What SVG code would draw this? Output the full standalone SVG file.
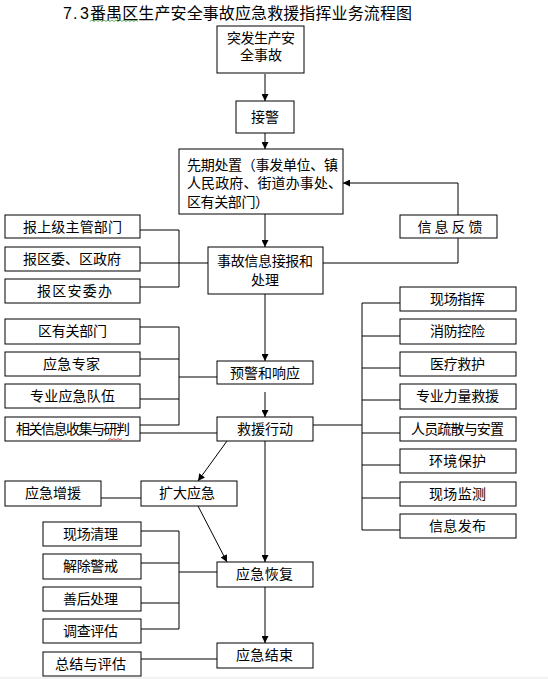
<svg xmlns="http://www.w3.org/2000/svg" width="548" height="679" viewBox="0 0 548 679">
<style>
  .box { fill: #fff; stroke: #000; stroke-width: 1; }
  .t { font-family: "Liberation Sans", "Noto Sans CJK SC", sans-serif; font-size: 14px; fill: #000; text-anchor: middle; }
  .tl { text-anchor: start; }
  .ttl { font-family: "Liberation Sans", "Noto Sans CJK SC", sans-serif; font-size: 16px; fill: #000; }
  .c { fill: none; stroke: #000; stroke-width: 1; }
  .a { fill: none; stroke: #000; stroke-width: 1; marker-end: url(#arr); }
</style>
<defs>
  <marker id="arr" viewBox="0 0 8 8" refX="8" refY="4" markerWidth="7" markerHeight="7" markerUnits="userSpaceOnUse" orient="auto">
    <path d="M0,0 L8,4 L0,8 Z" fill="#000"/>
  </marker>
</defs>
<rect x="0" y="0" width="548" height="679" fill="#fff"/>
<rect x="0" y="677" width="548" height="2" fill="#f2f2f2"/>

<g id="title">
  <text class="ttl" y="19"><tspan x="63">7</tspan><tspan x="73">.</tspan><tspan x="80">3</tspan><tspan x="90" textLength="322" lengthAdjust="spacing">番禺区生产安全事故应急救援指挥业务流程图</tspan></text>
  <polyline points="90,21.5 92,20 94,21.5 96,20 98,21.5 100,20 102,21.5 104,20 106,21.5 108,20 110,21.5 112,20 114,21.5 116,20 118,21.5 120,20 122,21.5 124,20 126,21.5 128,20 130,21.5 132,20 134,21.5 136,20 138,21.5" fill="none" stroke="#3a9a3a" stroke-width="0.8"/>
</g>

<g id="connectors">
  <line class="a" x1="265" y1="74" x2="265" y2="101"/>
  <line class="a" x1="265" y1="133" x2="265" y2="149"/>
  <line class="a" x1="265" y1="214" x2="265" y2="247"/>
  <line class="a" x1="265" y1="294" x2="265" y2="361"/>
  <line class="a" x1="265" y1="392" x2="265" y2="417"/>
  <line class="a" x1="265" y1="441" x2="265" y2="562"/>
  <line class="a" x1="265" y1="587" x2="265" y2="643"/>
  <line class="a" x1="227" y1="441" x2="198" y2="481"/>
  <line class="a" x1="198" y1="506" x2="227" y2="562"/>
  <polyline class="a" points="458,215 458,183 343,183"/>
  <polyline class="c" points="323,263 458,263 458,238"/>
  <polyline class="c" points="140,230 179,230 179,287 140,287"/>
  <line class="c" x1="140" y1="263" x2="208" y2="263"/>
  <polyline class="c" points="140,327 179,327 179,425 140,425"/>
  <line class="c" x1="140" y1="359" x2="179" y2="359"/>
  <line class="c" x1="140" y1="399" x2="179" y2="399"/>
  <line class="c" x1="179" y1="377" x2="217" y2="377"/>
  <line class="c" x1="140" y1="433" x2="217" y2="433"/>
  <line class="c" x1="362" y1="303" x2="362" y2="530"/>
  <line class="c" x1="313" y1="425" x2="362" y2="425"/>
  <line class="c" x1="362" y1="303" x2="400" y2="303"/>
  <line class="c" x1="362" y1="336" x2="400" y2="336"/>
  <line class="c" x1="362" y1="368" x2="400" y2="368"/>
  <line class="c" x1="362" y1="400" x2="400" y2="400"/>
  <line class="c" x1="362" y1="433" x2="400" y2="433"/>
  <line class="c" x1="362" y1="465" x2="400" y2="465"/>
  <line class="c" x1="362" y1="498" x2="400" y2="498"/>
  <line class="c" x1="362" y1="530" x2="400" y2="530"/>
  <line class="c" x1="101" y1="498" x2="141" y2="498"/>
  <polyline class="c" points="141,531 179,531 179,629 141,629"/>
  <line class="c" x1="141" y1="563" x2="179" y2="563"/>
  <line class="c" x1="141" y1="603" x2="179" y2="603"/>
  <line class="c" x1="179" y1="572" x2="217" y2="572"/>
  <line class="c" x1="141" y1="659" x2="217" y2="659"/>
</g>

<g id="n-tufa"><rect class="box" x="217" y="26" width="87" height="47"/>
  <text class="t" x="261" y="43" textLength="68">突发生产安</text><text class="t" x="261" y="60">全事故</text></g>
<g id="n-jiejing"><rect class="box" x="236" y="101" width="58" height="32"/><text class="t" x="265" y="122">接警</text></g>
<g id="n-xianqi"><rect class="box" x="179" y="149" width="164" height="65"/>
  <text class="t tl" x="187" y="170" textLength="151">先期处置（事发单位、镇</text>
  <text class="t tl" x="187" y="188" textLength="155">人民政府、街道办事处、</text>
  <text class="t tl" x="187" y="207" textLength="82">区有关部门）</text></g>
<g id="n-fankui"><rect class="box" x="400" y="215" width="97" height="23"/><text class="t" x="450" y="232" textLength="65">信息反馈</text></g>
<g id="n-shang"><rect class="box" x="5" y="215" width="135" height="23"/><text class="t" x="72.5" y="232" textLength="99">报上级主管部门</text></g>
<g id="n-quwei"><rect class="box" x="5" y="247" width="135" height="24"/><text class="t" x="72" y="264" textLength="98">报区委、区政府</text></g>
<g id="n-anwei"><rect class="box" x="5" y="279" width="135" height="24"/><text class="t" x="74.5" y="296" textLength="75">报区安委办</text></g>
<g id="n-jiebao"><rect class="box" x="208" y="247" width="115" height="47"/>
  <text class="t" x="265" y="266" textLength="96">事故信息接报和</text><text class="t" x="265" y="285">处理</text></g>
<g id="n-youguan"><rect class="box" x="5" y="319" width="135" height="25"/><text class="t" x="72.5" y="336" textLength="69">区有关部门</text></g>
<g id="n-zhuanjia"><rect class="box" x="5" y="352" width="135" height="24"/><text class="t" x="71.5" y="369" textLength="57">应急专家</text></g>
<g id="n-duiwu"><rect class="box" x="5" y="384" width="135" height="24"/><text class="t" x="72.5" y="401" textLength="85">专业应急队伍</text></g>
<g id="n-yanpan"><rect class="box" x="5" y="417" width="135" height="24"/><text class="t" x="73" y="434" textLength="114">相关信息收集与研判</text>
  <polyline points="108,440 110,438.5 112,440 114,438.5 116,440 118,438.5 120,440 122,438.5" fill="none" stroke="#e02020" stroke-width="0.8"/></g>
<g id="n-yujing"><rect class="box" x="217" y="361" width="96" height="23"/><text class="t" x="265" y="378" textLength="70">预警和响应</text></g>
<g id="n-jiuyuan"><rect class="box" x="217" y="417" width="96" height="24"/><text class="t" x="265" y="434" textLength="56">救援行动</text></g>
<g id="n-zhihui"><rect class="box" x="400" y="287" width="116" height="24"/><text class="t" x="457.5" y="304" textLength="55">现场指挥</text></g>
<g id="n-xiaofang"><rect class="box" x="400" y="319" width="116" height="25"/><text class="t" x="457.5" y="336" textLength="55">消防控险</text></g>
<g id="n-yiliao"><rect class="box" x="400" y="352" width="116" height="24"/><text class="t" x="457.5" y="369" textLength="55">医疗救护</text></g>
<g id="n-liliang"><rect class="box" x="400" y="384" width="116" height="25"/><text class="t" x="457.5" y="401" textLength="83">专业力量救援</text></g>
<g id="n-shusan"><rect class="box" x="400" y="417" width="116" height="24"/><text class="t" x="457.5" y="434" textLength="93">人员疏散与安置</text></g>
<g id="n-huanjing"><rect class="box" x="400" y="449" width="116" height="24"/><text class="t" x="457.5" y="466" textLength="57">环境保护</text></g>
<g id="n-jiance"><rect class="box" x="400" y="482" width="116" height="24"/><text class="t" x="457.5" y="499" textLength="57">现场监测</text></g>
<g id="n-fabu"><rect class="box" x="400" y="514" width="116" height="24"/><text class="t" x="457.5" y="531" textLength="57">信息发布</text></g>
<g id="n-zengyuan"><rect class="box" x="5" y="481" width="96" height="25"/><text class="t" x="53" y="498" textLength="56">应急增援</text></g>
<g id="n-kuoda"><rect class="box" x="141" y="481" width="96" height="25"/><text class="t" x="187" y="498" textLength="56">扩大应急</text></g>
<g id="n-qingli"><rect class="box" x="43" y="522" width="98" height="24"/><text class="t" x="90.5" y="539" textLength="55">现场清理</text></g>
<g id="n-jiechu"><rect class="box" x="43" y="554" width="98" height="25"/><text class="t" x="90.5" y="571" textLength="55">解除警戒</text></g>
<g id="n-shanhou"><rect class="box" x="43" y="587" width="98" height="24"/><text class="t" x="90.5" y="604" textLength="55">善后处理</text></g>
<g id="n-diaocha"><rect class="box" x="43" y="619" width="98" height="24"/><text class="t" x="90.5" y="636" textLength="55">调查评估</text></g>
<g id="n-zongjie"><rect class="box" x="43" y="652" width="98" height="24"/><text class="t" x="90.5" y="669" textLength="71">总结与评估</text></g>
<g id="n-huifu"><rect class="box" x="217" y="562" width="96" height="25"/><text class="t" x="264.5" y="579" textLength="57">应急恢复</text></g>
<g id="n-jieshu"><rect class="box" x="217" y="643" width="96" height="25"/><text class="t" x="264.5" y="660" textLength="57">应急结束</text></g>
</svg>
